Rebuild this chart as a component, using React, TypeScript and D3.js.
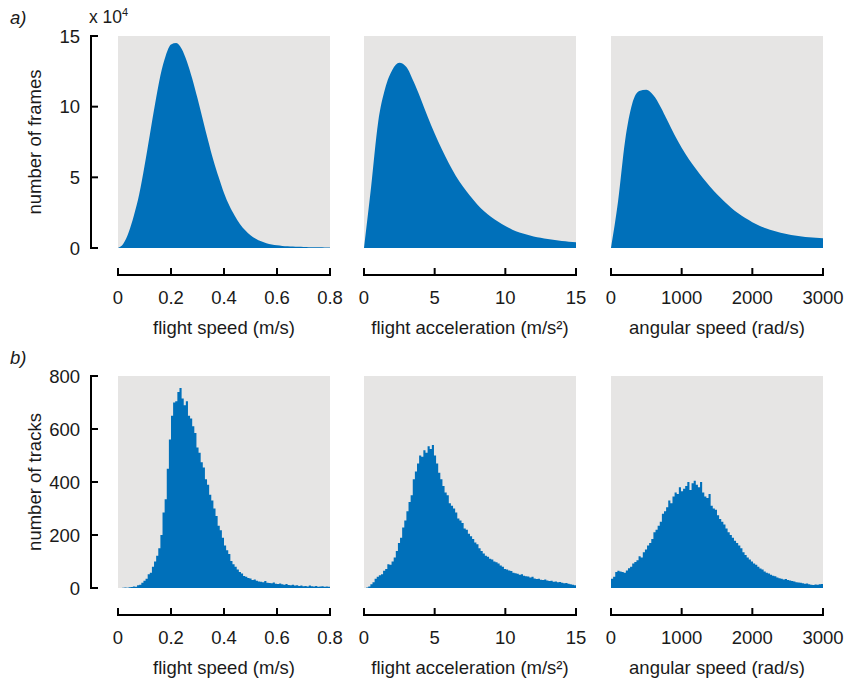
import React from "react";
import * as d3 from "d3";

// ---------- data ----------
// Row a): histogram of frames (values in units of 10^4), sampled as smooth profiles
const speedFramesX = [0,0.02,0.04,0.06,0.08,0.10,0.12,0.14,0.16,0.18,0.20,0.22,0.24,0.26,0.28,0.30,0.32,0.34,0.36,0.38,0.40,0.42,0.44,0.46,0.48,0.50,0.52,0.54,0.56,0.58,0.60,0.62,0.64,0.66,0.68,0.70,0.72,0.74,0.76,0.78,0.80];
const speedFramesY = [0,0.3,1.1,2.3,3.8,5.8,8.0,10.2,12.2,13.6,14.4,14.5,14.1,13.2,12.0,10.6,9.1,7.6,6.2,5.0,3.9,3.0,2.3,1.7,1.25,0.9,0.65,0.47,0.34,0.25,0.19,0.15,0.12,0.1,0.08,0.07,0.06,0.05,0.05,0.04,0.04];

const accFramesX = [0,0.5,1,1.5,2,2.5,3,3.5,4,4.5,5,5.5,6,6.5,7,7.5,8,8.5,9,9.5,10,10.5,11,11.5,12,12.5,13,13.5,14,14.5,15];
const accFramesY = [0,4.3,8.9,11.3,12.6,13.1,12.8,11.8,10.6,9.3,8.1,7.0,6.0,5.1,4.35,3.7,3.1,2.6,2.2,1.85,1.55,1.3,1.1,0.95,0.82,0.72,0.63,0.56,0.5,0.45,0.41];

const angFramesX = [0,100,200,300,400,500,600,700,800,900,1000,1100,1200,1300,1400,1500,1600,1700,1800,1900,2000,2100,2200,2300,2400,2500,2600,2700,2800,2900,3000];
const angFramesY = [0,3.3,7.6,10.2,11.1,11.2,10.8,10.0,9.0,8.0,7.1,6.3,5.6,4.95,4.35,3.8,3.3,2.85,2.45,2.12,1.83,1.58,1.38,1.22,1.08,0.97,0.88,0.81,0.76,0.72,0.69];

// Row b): histogram of tracks, 100 bins each
const speedTracks = [0,0,1,2,1,3,4,6,5,10,12,20,27,35,52,58,80,100,122,150,200,285,335,450,560,650,700,705,740,755,715,690,705,650,640,610,585,530,510,475,455,410,390,352,330,300,272,235,218,190,160,142,128,102,90,80,70,60,55,45,42,38,36,30,32,27,25,24,22,26,20,19,18,21,16,15,17,14,12,15,11,10,12,9,10,8,9,7,8,6,9,7,6,8,5,6,7,5,6,5];
const accTracks = [0,2,6,14,22,35,42,48,52,65,72,90,88,100,115,140,170,190,228,255,290,325,350,410,440,470,500,495,520,510,535,525,540,500,470,435,410,385,360,350,320,310,300,285,262,255,245,225,220,205,195,185,172,165,150,140,130,122,118,110,108,100,97,92,85,80,72,70,66,64,58,56,54,50,52,46,44,43,40,42,36,34,35,31,30,32,28,26,27,24,25,22,23,20,18,19,16,14,12,10];
const angTracks = [35,42,60,65,62,60,58,66,75,80,92,98,105,120,115,135,145,160,170,185,210,220,235,250,280,290,305,330,320,345,360,355,380,365,375,385,400,370,395,405,390,380,400,360,345,340,355,310,300,295,275,260,250,240,225,210,200,190,178,170,160,150,135,125,115,108,100,92,88,80,74,70,62,58,55,50,46,44,40,37,35,32,34,30,28,26,25,22,21,20,18,16,17,14,12,11,13,12,14,15];

const xMaxes = [0.8, 15, 3000];
const xTicks = [
  [0, 0.2, 0.4, 0.6, 0.8],
  [0, 5, 10, 15],
  [0, 1000, 2000, 3000],
];
const xTickLabels = [
  ["0", "0.2", "0.4", "0.6", "0.8"],
  ["0", "5", "10", "15"],
  ["0", "1000", "2000", "3000"],
];
const xTitles = ["flight speed (m/s)", "flight acceleration (m/s²)", "angular speed (rad/s)"];
const yTicksA = [0, 5, 10, 15];
const yTicksB = [0, 200, 400, 600, 800];

// ---------- layout ----------
const W = 849, H = 686;
const panelX: [number, number][] = [[118, 330], [364, 576], [611, 823]];
const rowA = { top: 36, bottom: 248, axisY: 275, yMax: 15 };
const rowB = { top: 376, bottom: 588, axisY: 615, yMax: 800 };
const BLUE = "#0070BA";
const GRAY = "#E6E5E4";
const FONT = "'Liberation Sans', Arial, sans-serif";
const FS = 18.5;
const TXT = "#1a1a1a";

function XAxis({ sx, y, ticks, labels, title }: any) {
  const [x0, x1] = sx.range();
  return (
    <g>
      <line x1={x0} x2={x1} y1={y} y2={y} stroke="#000" strokeWidth={2} />
      {ticks.map((t: number, i: number) => (
        <g key={i}>
          <line x1={sx(t)} x2={sx(t)} y1={y + 1} y2={y - 7} stroke="#000" strokeWidth={2} />
          <text x={sx(t)} y={y + 29} textAnchor="middle" fontSize={FS} fontFamily={FONT} fill={TXT}>
            {labels[i]}
          </text>
        </g>
      ))}
      <text x={(x0 + x1) / 2} y={y + 59} textAnchor="middle" fontSize={FS} fontFamily={FONT} fill={TXT}>
        {title}
      </text>
    </g>
  );
}

function YAxis({ sy, x, ticks, title }: any) {
  const [y0, y1] = sy.range();
  return (
    <g>
      <line x1={x} x2={x} y1={y0 + 1} y2={y1 - 1} stroke="#000" strokeWidth={2} />
      {ticks.map((t: number, i: number) => (
        <g key={i}>
          <line x1={x - 1} x2={x + 7} y1={sy(t)} y2={sy(t)} stroke="#000" strokeWidth={2} />
          <text x={80} y={sy(t) + 6.5} textAnchor="end" fontSize={FS} fontFamily={FONT} fill={TXT}>
            {t}
          </text>
        </g>
      ))}
      <text
        transform={`translate(41,${(y0 + y1) / 2}) rotate(-90)`}
        textAnchor="middle"
        fontSize={FS}
        fontFamily={FONT}
        fill={TXT}
      >
        {title}
      </text>
    </g>
  );
}

export default function App() {
  const syA = d3.scaleLinear().domain([0, rowA.yMax]).range([rowA.bottom, rowA.top]);
  const syB = d3.scaleLinear().domain([0, rowB.yMax]).range([rowB.bottom, rowB.top]);

  const framesX = [speedFramesX, accFramesX, angFramesX];
  const framesY = [speedFramesY, accFramesY, angFramesY];
  const tracks = [speedTracks, accTracks, angTracks];

  return (
    <svg
      width={W}
      height={H}
      style={{ position: "absolute", left: 0, top: 0, background: "#fff" }}
    >
      {/* panel labels */}
      <text x={10} y={24} fontSize={FS} fontStyle="italic" fontFamily={FONT} fill={TXT}>a)</text>
      <text x={89} y={23} fontSize={FS - 1} fontFamily={FONT} fill={TXT}>
        x 10<tspan dy={-7} fontSize={11}>4</tspan>
      </text>
      <text x={10} y={364} fontSize={FS} fontStyle="italic" fontFamily={FONT} fill={TXT}>b)</text>

      {[0, 1, 2].map((k) => {
        const sxA = d3.scaleLinear().domain([0, xMaxes[k]]).range(panelX[k]);
        const sxB = d3.scaleLinear().domain([0, xMaxes[k]]).range(panelX[k]);
        const pts = framesX[k].map((x, i) => [x, framesY[k][i]] as [number, number]);
        const areaA = d3
          .area<[number, number]>()
          .x((d) => sxA(d[0]))
          .y0(syA(0))
          .y1((d) => syA(d[1]))
          .curve(d3.curveMonotoneX)(pts);

        const vals = tracks[k];
        const bw = xMaxes[k] / vals.length;
        const stepPts: [number, number][] = vals.map((v, i) => [i * bw, v]);
        stepPts.push([xMaxes[k], vals[vals.length - 1]]);
        const areaB = d3
          .area<[number, number]>()
          .x((d) => sxB(d[0]))
          .y0(syB(0))
          .y1((d) => syB(d[1]))
          .curve(d3.curveStepAfter)(stepPts);

        return (
          <g key={k}>
            <rect x={panelX[k][0]} y={rowA.top} width={panelX[k][1] - panelX[k][0]} height={rowA.bottom - rowA.top} fill={GRAY} />
            <path d={areaA || ""} fill={BLUE} />
            <XAxis sx={sxA} y={rowA.axisY} ticks={xTicks[k]} labels={xTickLabels[k]} title={xTitles[k]} />

            <rect x={panelX[k][0]} y={rowB.top} width={panelX[k][1] - panelX[k][0]} height={rowB.bottom - rowB.top} fill={GRAY} />
            <path d={areaB || ""} fill={BLUE} />
            <XAxis sx={sxB} y={rowB.axisY} ticks={xTicks[k]} labels={xTickLabels[k]} title={xTitles[k]} />
          </g>
        );
      })}

      <YAxis sy={syA} x={91} ticks={yTicksA} title="number of frames" />
      <YAxis sy={syB} x={91} ticks={yTicksB} title="number of tracks" />
    </svg>
  );
}
